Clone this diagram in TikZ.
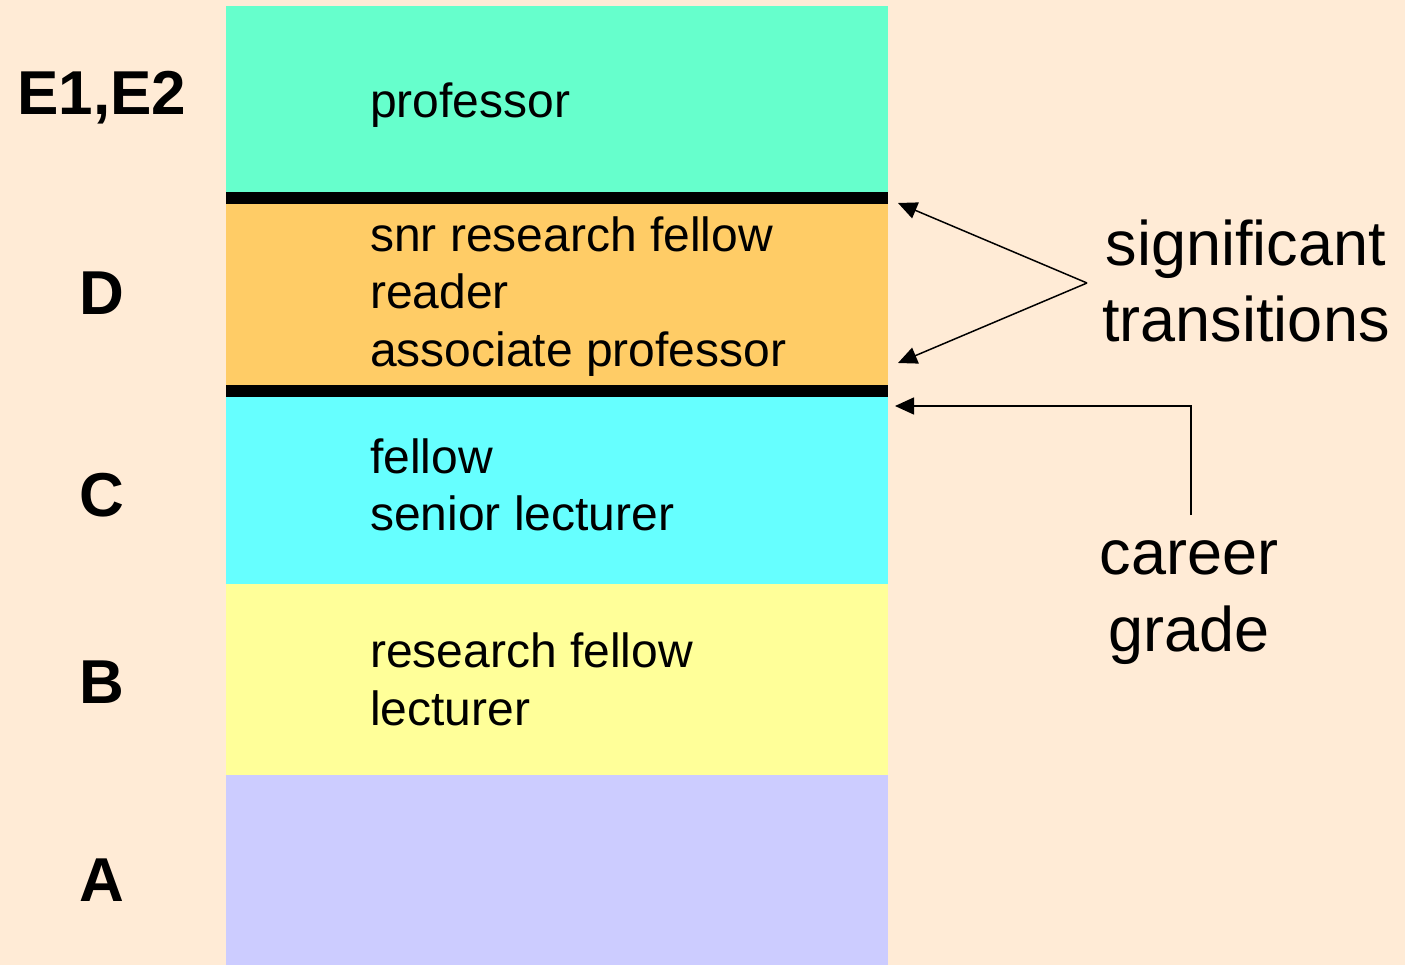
\documentclass[tikz,border=0pt]{standalone}
\usepackage{fontspec}
\setmainfont{Liberation Sans}
\usetikzlibrary{arrows.meta}
\definecolor{bg}{HTML}{FFEBD6}
\definecolor{gradeE}{HTML}{66FFCC}
\definecolor{gradeD}{HTML}{FFCC66}
\definecolor{gradeC}{HTML}{66FFFF}
\definecolor{gradeB}{HTML}{FFFF99}
\definecolor{gradeA}{HTML}{CCCCFF}
\tikzset{
  divider/.style={line width=12pt, black},
  % multi-line nodes are placed by the baseline of their last line
  roles/.style={anchor=base west, align=left, inner sep=0pt,
    font=\fontsize{48}{57.5}\selectfont},
  gradelbl/.style={anchor=base, inner sep=0pt,
    font=\fontsize{62}{70}\selectfont\bfseries},
  note/.style={align=center, inner sep=0pt, anchor=base,
    font=\fontsize{63}{77}\selectfont},
  pointer/.style={line width=1.5pt, -{Triangle[length=19pt,width=17pt]}},
}
\begin{document}
\begin{tikzpicture}[x=1pt,y=-1pt]
  \fill[bg] (0,0) rectangle (1405,965);
  \useasboundingbox (0,0) rectangle (1405,965);

  % grade bands
  \fill[gradeE] (226,6)   rectangle (888,198);
  \fill[gradeD] (226,198) rectangle (888,391);
  \fill[gradeC] (226,391) rectangle (888,584);
  \fill[gradeB] (226,584) rectangle (888,775);
  \fill[gradeA] (226,775) rectangle (888,965);
  \draw[divider] (226,198) -- (888,198);
  \draw[divider] (226,391) -- (888,391);

  % grade letters
  \node[gradelbl] (gE) at (102,115) {E1,E2};
  \node[gradelbl] (gD) at (102,315) {D};
  \node[gradelbl] (gC) at (102,516) {C};
  \node[gradelbl] (gB) at (102,703) {B};
  \node[gradelbl] (gA) at (102,901) {A};

  % job titles
  \node[roles] (rE) at (370,118) {professor};
  \node[roles] (rD) at (370,366.5) {snr research fellow\\reader\\associate professor};
  \node[roles] (rC) at (370,530.5) {fellow\\senior lecturer};
  \node[roles] (rB) at (370,725) {research fellow\\lecturer};

  % annotations
  \node[note] (sig) at (1246,342) {significant\\transitions};
  \node[note] (car) at (1189,651) {career\\grade};

  \coordinate (fork) at (1087,283);
  \coordinate (tipUp) at (898,203);
  \coordinate (tipDown) at (898,363);
  \coordinate (careerFoot) at (1191,515);
  \coordinate (tipCareer) at (895,406);

  \draw[pointer] (fork) -- (tipUp);
  \draw[pointer] (fork) -- (tipDown);
  \draw[pointer] (careerFoot) |- (tipCareer);
\end{tikzpicture}
\end{document}
